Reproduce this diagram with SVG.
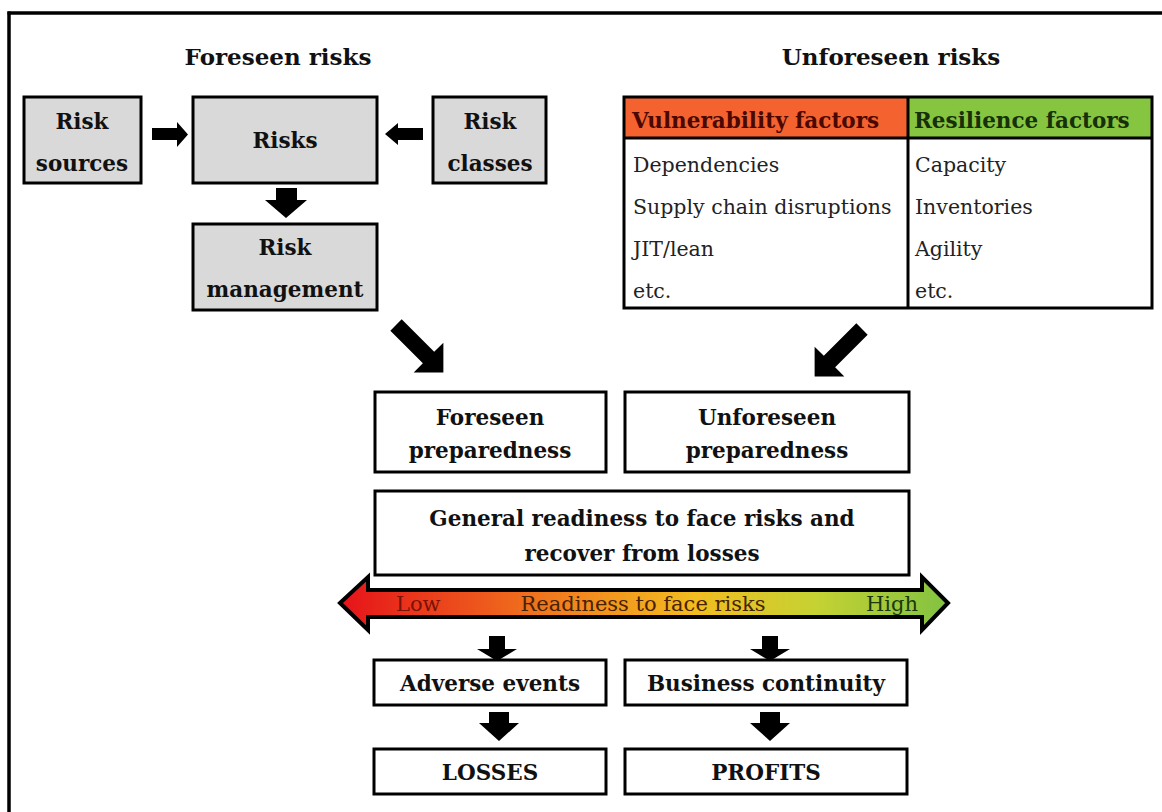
<svg xmlns="http://www.w3.org/2000/svg" width="1162" height="812" viewBox="0 0 1162 812">
<defs>
<linearGradient id="grad" x1="340" y1="0" x2="948" y2="0" gradientUnits="userSpaceOnUse">
<stop offset="0" stop-color="#e6121a"/>
<stop offset="0.2" stop-color="#ec4e1c"/>
<stop offset="0.4" stop-color="#f28a1e"/>
<stop offset="0.58" stop-color="#f2bc20"/>
<stop offset="0.78" stop-color="#c6d232"/>
<stop offset="1" stop-color="#82c242"/>
</linearGradient>
<style>
.box{fill:#fff;stroke:#000;stroke-width:3}
.gray{fill:#d9d9d9;stroke:#000;stroke-width:3}
.t{font-family:"DejaVu Serif","Liberation Serif",serif;font-weight:bold;font-size:21.5px;fill:#111;text-anchor:middle}
.title{font-family:"DejaVu Serif","Liberation Serif",serif;font-weight:bold;font-size:23px;fill:#111;text-anchor:middle}
.cell{font-family:"DejaVu Serif","Liberation Serif",serif;font-size:20.5px;fill:#222}
.hdr{font-family:"DejaVu Serif","Liberation Serif",serif;font-weight:bold;font-size:21.5px}
.scale{font-family:"DejaVu Serif","Liberation Serif",serif;font-size:21px}
.arr{fill:#000}
</style>
</defs>
<rect width="1162" height="812" fill="#fff"/>
<g id="frame" stroke="#000" stroke-width="3.5" fill="none">
<line x1="7.5" y1="13" x2="1162" y2="13"/>
<line x1="9" y1="11.5" x2="9" y2="812"/>
</g>
<text class="title" x="278" y="65">Foreseen risks</text>
<text class="title" x="891" y="65">Unforeseen risks</text>

<g id="risk-sources"><rect class="gray" x="24" y="97" width="117" height="86"/>
<text class="t" x="82" y="129">Risk</text><text class="t" x="82" y="171">sources</text></g>
<g id="risks"><rect class="gray" x="193" y="97" width="184" height="86"/>
<text class="t" x="285" y="148">Risks</text></g>
<g id="risk-classes"><rect class="gray" x="433" y="97" width="113" height="86"/>
<text class="t" x="490" y="129">Risk</text><text class="t" x="490" y="171">classes</text></g>
<g id="risk-management"><rect class="gray" x="193" y="224" width="184" height="86"/>
<text class="t" x="285" y="255">Risk</text><text class="t" x="285" y="297">management</text></g>

<g id="factors-table">
<rect x="624" y="97" width="284" height="41" fill="#f4622f"/>
<rect x="908" y="97" width="244" height="41" fill="#86c540"/>
<rect x="624" y="97" width="528" height="211" fill="none" stroke="#000" stroke-width="3"/>
<line x1="624" y1="138" x2="1152" y2="138" stroke="#000" stroke-width="3"/>
<line x1="908" y1="97" x2="908" y2="308" stroke="#000" stroke-width="3"/>
<text class="hdr" x="632" y="128" fill="#4a0800">Vulnerability factors</text>
<text class="hdr" x="914" y="128" fill="#16300a">Resilience factors</text>
<text class="cell" x="633" y="172">Dependencies</text>
<text class="cell" x="633" y="214">Supply chain disruptions</text>
<text class="cell" x="633" y="256">JIT/lean</text>
<text class="cell" x="633" y="298">etc.</text>
<text class="cell" x="915" y="172">Capacity</text>
<text class="cell" x="915" y="214">Inventories</text>
<text class="cell" x="915" y="256">Agility</text>
<text class="cell" x="915" y="298">etc.</text>
</g>

<g id="foreseen-preparedness"><rect class="box" x="375" y="392" width="231" height="80"/>
<text class="t" x="490" y="425">Foreseen</text><text class="t" x="490" y="458">preparedness</text></g>
<g id="unforeseen-preparedness"><rect class="box" x="625" y="392" width="284" height="80"/>
<text class="t" x="767" y="425">Unforeseen</text><text class="t" x="767" y="458">preparedness</text></g>
<g id="general-readiness"><rect class="box" x="375" y="491" width="534" height="84"/>
<text class="t" x="642" y="526">General readiness to face risks and</text><text class="t" x="642" y="561">recover from losses</text></g>

<g id="readiness-scale">
<path d="M340,603 L368,577 L368,590 L922,590 L922,577 L948,603 L922,630 L922,617 L368,617 L368,630 Z" fill="url(#grad)" stroke="#000" stroke-width="4" stroke-linejoin="miter"/>
<text class="scale" x="396" y="611" fill="#7a1208">Low</text>
<text class="scale" x="643" y="611" fill="#4a2200" text-anchor="middle">Readiness to face risks</text>
<text class="scale" x="866" y="611" fill="#1a3a10">High</text>
</g>

<g id="adverse-events"><rect class="box" x="374" y="660" width="232" height="45"/>
<text class="t" x="490" y="691">Adverse events</text></g>
<g id="business-continuity"><rect class="box" x="625" y="660" width="282" height="45"/>
<text class="t" x="766" y="691">Business continuity</text></g>
<g id="losses"><rect class="box" x="374" y="749" width="232" height="45"/>
<text class="t" x="490" y="780">LOSSES</text></g>
<g id="profits"><rect class="box" x="625" y="749" width="282" height="45"/>
<text class="t" x="766" y="780">PROFITS</text></g>

<g id="connectors" class="arr">
<path d="M152,128 L177,128 L177,122 L188,134.5 L177,147 L177,140 L152,140 Z"/>
<path d="M423,128 L398,128 L398,123 L385,134 L398,145 L398,140 L423,140 Z"/>
<path d="M276,188 L297,188 L297,200 L307,200 L286,218 L265,200 L276,200 Z"/>
<path transform="translate(396,325) rotate(-45)" d="M-8,0 L8,0 L8,46 L21,46 L0,67 L-21,46 L-8,46 Z"/>
<path transform="translate(862,329) rotate(45)" d="M-8,0 L8,0 L8,46 L21,46 L0,67 L-21,46 L-8,46 Z"/>
<path d="M489,636 L505,636 L505,649 L517,649 L497,661 L477,649 L489,649 Z"/>
<path d="M762,636 L778,636 L778,649 L790,649 L770,661 L750,649 L762,649 Z"/>
<path d="M489,712 L509,712 L509,723 L519,723 L499,741 L479,723 L489,723 Z"/>
<path d="M760,712 L780,712 L780,723 L790,723 L770,741 L750,723 L760,723 Z"/>
</g>
</svg>
